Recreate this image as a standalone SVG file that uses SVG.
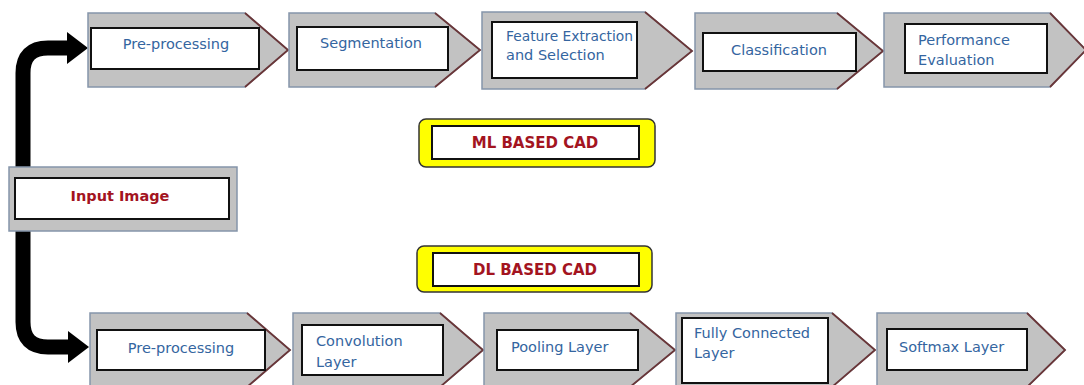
<svg xmlns="http://www.w3.org/2000/svg" width="1084" height="385" viewBox="0 0 1084 385">
<defs>
<style>
.chev{fill:#c2c2c2;stroke:#8595aa;stroke-width:1.5}
.diag{fill:none;stroke:#6a3638;stroke-width:1.8}
.inner{fill:#fff;stroke:#111;stroke-width:2}
.lbl{font-family:"DejaVu Sans",sans-serif;font-size:14.5px;fill:#3465a0}
.red{font-family:"DejaVu Sans",sans-serif;font-weight:bold;fill:#a3141f}
.yel{fill:#ffff00;stroke:#333;stroke-width:1.5}
.conn{fill:none;stroke:#000;stroke-width:15}
</style>
<marker id="ah" markerUnits="userSpaceOnUse" markerWidth="22" markerHeight="32" refX="1" refY="16" orient="auto">
<path d="M0,0 L21,16 L0,32 Z" fill="#000"/>
</marker>
</defs>
<rect width="1084" height="385" fill="#fff"/>

<g id="connectors">
<path class="conn" d="M23,175 V73 Q23,48 48,48 H68" marker-end="url(#ah)"/>
<path class="conn" d="M23,225 V322 Q23,347 48,347 H69" marker-end="url(#ah)"/>
</g>

<g id="input-image">
<rect x="9" y="167" width="228" height="64" class="chev"/>
<rect x="15" y="178" width="214" height="41" class="inner"/>
<text x="120" y="201" class="red" font-size="14.5" text-anchor="middle">Input Image</text>
</g>

<g id="ml-label">
<rect x="419" y="119" width="236" height="48" rx="7" class="yel"/>
<rect x="432" y="126" width="207" height="33" class="inner"/>
<text x="535" y="148" class="red" font-size="15" text-anchor="middle">ML BASED CAD</text>
</g>

<g id="dl-label">
<rect x="417" y="246" width="235" height="46" rx="7" class="yel"/>
<rect x="433" y="253" width="206" height="33" class="inner"/>
<text x="535" y="275" class="red" font-size="15" text-anchor="middle">DL BASED CAD</text>
</g>

<!-- Top row -->
<g id="ml-preprocessing">
<path class="chev" d="M88,13 H245 L288,50 L245,87 H88 Z"/>
<path class="diag" d="M245,13 L288,50 L245,87"/>
<rect x="91" y="28" width="168" height="41" class="inner"/>
<text x="176" y="49" class="lbl" text-anchor="middle">Pre-processing</text>
</g>
<g id="ml-segmentation">
<path class="chev" d="M289,13 H435 L480,50 L435,87 H289 Z"/>
<path class="diag" d="M435,13 L480,50 L435,87"/>
<rect x="297" y="27" width="151" height="43" class="inner"/>
<text x="371" y="48" class="lbl" text-anchor="middle">Segmentation</text>
</g>
<g id="ml-feature">
<path class="chev" d="M482,12 H645 L692,51 L645,89 H482 Z"/>
<path class="diag" d="M645,12 L692,51 L645,89"/>
<rect x="492" y="22" width="145" height="56" class="inner"/>
<text x="506" y="41" class="lbl" textLength="127" lengthAdjust="spacingAndGlyphs">Feature Extraction</text>
<text x="506" y="60" class="lbl">and Selection</text>
</g>
<g id="ml-classification">
<path class="chev" d="M695,13 H837 L883,51 L837,89 H695 Z"/>
<path class="diag" d="M837,13 L883,51 L837,89"/>
<rect x="703" y="33" width="153" height="38" class="inner"/>
<text x="779" y="55" class="lbl" text-anchor="middle">Classification</text>
</g>
<g id="ml-performance">
<path class="chev" d="M884,13 H1050 L1086,50 L1050,87 H884 Z"/>
<path class="diag" d="M1050,13 L1086,50 L1050,87"/>
<rect x="905" y="24" width="142" height="49" class="inner"/>
<text x="918" y="45" class="lbl">Performance</text>
<text x="918" y="65" class="lbl">Evaluation</text>
</g>

<!-- Bottom row -->
<g id="dl-preprocessing">
<path class="chev" d="M90,313 H247 L290,350 L247,387 H90 Z"/>
<path class="diag" d="M247,313 L290,350 L247,387"/>
<rect x="97" y="330" width="168" height="40" class="inner"/>
<text x="181" y="353" class="lbl" text-anchor="middle">Pre-processing</text>
</g>
<g id="dl-convolution">
<path class="chev" d="M293,313 H440 L483,350 L440,387 H293 Z"/>
<path class="diag" d="M440,313 L483,350 L440,387"/>
<rect x="302" y="325" width="141" height="50" class="inner"/>
<text x="316" y="346" class="lbl">Convolution</text>
<text x="316" y="367" class="lbl">Layer</text>
</g>
<g id="dl-pooling">
<path class="chev" d="M484,313 H630 L675,350 L630,387 H484 Z"/>
<path class="diag" d="M630,313 L675,350 L630,387"/>
<rect x="497" y="330" width="141" height="40" class="inner"/>
<text x="511" y="352" class="lbl">Pooling Layer</text>
</g>
<g id="dl-fully-connected">
<path class="chev" d="M676,313 H832 L875,350 L832,387 H676 Z"/>
<path class="diag" d="M832,313 L875,350 L832,387"/>
<rect x="682" y="318" width="146" height="65" class="inner"/>
<text x="694" y="338" class="lbl">Fully Connected</text>
<text x="694" y="358" class="lbl">Layer</text>
</g>
<g id="dl-softmax">
<path class="chev" d="M877,313 H1027 L1065,350 L1027,387 H877 Z"/>
<path class="diag" d="M1027,313 L1065,350 L1027,387"/>
<rect x="887" y="329" width="140" height="41" class="inner"/>
<text x="899" y="352" class="lbl">Softmax Layer</text>
</g>
</svg>
